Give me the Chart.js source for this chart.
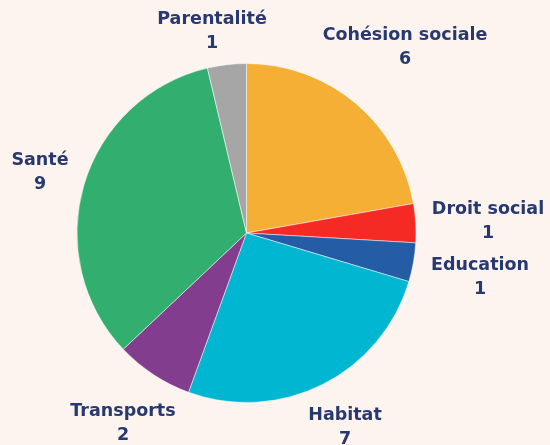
<!DOCTYPE html>
<html>
<head>
<meta charset="utf-8">
<script src="https://cdn.jsdelivr.net/npm/chart.js@4"></script>
<style>
  html, body { margin: 0; padding: 0; background: #fdf3ef; }
  #wrap { width: 550px; height: 445px; }
</style>
</head>
<body>
<div id="wrap"><canvas id="Chart" width="550" height="445"></canvas></div>
<script>
const categories = ["Cohésion sociale", "Droit social", "Education", "Habitat", "Transports", "Santé", "Parentalité"];
const counts = [6, 1, 1, 7, 2, 9, 1];
const colors = ["#f5af34", "#f52a24", "#245ca6", "#00b6d0", "#823d8f", "#32af6f", "#a6a6a6"];

// where each label sits (text centre, first line)
const labelSpots = [
  [405, 35], [488, 209], [480, 265], [345, 415], [123, 411], [40, 160], [212, 19]
];

const outerLabels = {
  id: "outerLabels",
  afterDraw(chart) {
    const ctx = chart.ctx;
    ctx.save();
    ctx.fillStyle = "#27396f";
    ctx.font = "bold 17.5px 'DejaVu Sans', sans-serif";
    ctx.textAlign = "center";
    ctx.textBaseline = "middle";
    categories.forEach((c, i) => {
      const p = labelSpots[i];
      ctx.fillText(c, p[0], p[1]);
      ctx.fillText(String(counts[i]), p[0], p[1] + 24);
    });
    ctx.restore();
  }
};

const ctx = document.getElementById("Chart").getContext("2d");
const myChart = new Chart(ctx, {
  type: "pie",
  data: {
    labels: categories,
    datasets: [{
      data: counts,
      backgroundColor: colors,
      borderColor: "rgba(255,255,255,0.5)",
      borderWidth: 1
    }]
  },
  options: {
    responsive: false,
    animation: false,
    layout: { padding: { left: 76.5, right: 133.5, top: 63, bottom: 42 } },
    plugins: {
      legend: { display: false },
      tooltip: { enabled: false }
    }
  },
  plugins: [outerLabels]
});
</script>
</body>
</html>
